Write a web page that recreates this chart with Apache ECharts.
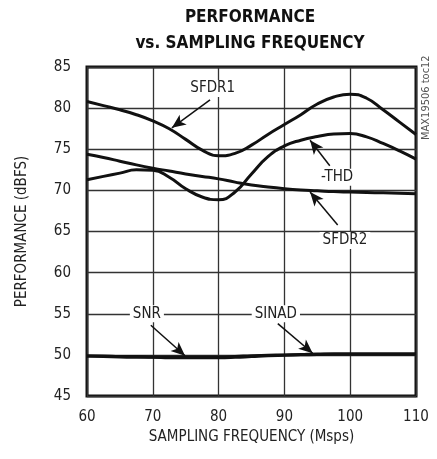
<!DOCTYPE html>
<html>
<head>
<meta charset="utf-8">
<script src="https://cdn.jsdelivr.net/npm/echarts@6/dist/echarts.min.js"></script>
<style>
  html, body { margin: 0; padding: 0; background: #fff; }
  #chart { width: 437px; height: 459px; }
</style>
</head>
<body>
<div id="chart"></div>
<script>
// sampling frequency (Msps)
const freq = [60, 62.5, 65, 67.5, 70, 72.5, 75, 77.5, 80, 82.5, 85, 87.5, 90, 92.5, 95, 97.5, 100, 102.5, 105, 107.5, 110];

// performance (dBFS)
const sfdr1 = [80.8, 80.3, 79.8, 79.2, 78.45, 77.5, 76.2, 74.9, 74.2, 74.5, 75.5, 76.8, 78.0, 79.2, 80.5, 81.35, 81.7, 81.2, 79.8, 78.3, 76.8];
const thd   = [71.3, 71.7, 72.1, 72.5, 72.45, 71.6, 70.2, 69.2, 68.85, 69.8, 72.0, 74.1, 75.4, 76.1, 76.55, 76.85, 76.9, 76.5, 75.7, 74.8, 73.8];
const sfdr2 = [74.4, 74.0, 73.55, 73.1, 72.7, 72.35, 72.0, 71.7, 71.4, 71.0, 70.65, 70.4, 70.2, 70.05, 69.95, 69.85, 69.8, 69.75, 69.7, 69.65, 69.6];
const snr   = [49.85, 49.85, 49.8, 49.8, 49.75, 49.75, 49.75, 49.75, 49.75, 49.8, 49.9, 49.95, 50.0, 50.05, 50.1, 50.1, 50.1, 50.1, 50.1, 50.1, 50.1];
const sinad = [49.85, 49.8, 49.75, 49.7, 49.7, 49.65, 49.65, 49.65, 49.65, 49.7, 49.8, 49.9, 49.95, 50.0, 50.05, 50.1, 50.1, 50.1, 50.1, 50.1, 50.1];

// annotation text position and arrow (from -> to), in data units
const notes = {
    SFDR1: { text: 'SFDR1', at: [79.1, 82.4], from: [78.7, 81.0], to: [72.9, 77.6] },
    THD:   { text: '-THD',  at: [98.0, 71.6], from: [96.9, 73.0], to: [93.9, 76.1] },
    SFDR2: { text: 'SFDR2', at: [99.2, 63.9], from: [98.1, 65.8], to: [93.9, 69.8] },
    SNR:   { text: 'SNR',   at: [69.1, 55.0], from: [69.7, 53.6], to: [74.9, 49.9] },
    SINAD: { text: 'SINAD', at: [88.7, 55.0], from: [89.0, 53.8], to: [94.3, 50.2] }
};

const FONT = '"DejaVu Sans Condensed", "Liberation Sans Narrow", "Liberation Sans", sans-serif';

function pairs(ys) {
    return freq.map(function (x, i) { return [x, ys[i]]; });
}

function makeSeries(name, ys, note) {
    return {
        name: name,
        type: 'line',
        data: pairs(ys),
        smooth: 0.5,
        symbol: 'none',
        lineStyle: { color: '#111', width: 3 },
        z: 3,
        markLine: {
            silent: true,
            symbol: ['none', 'arrow'],
            symbolSize: [9, 14],
            lineStyle: { color: '#111', width: 1.5, type: 'solid' },
            label: { show: false },
            data: [[{ coord: note.from }, { coord: note.to }]]
        },
        markPoint: {
            silent: true,
            symbol: 'rect',
            symbolSize: 0,
            data: [{
                coord: note.at,
                label: {
                    show: true,
                    position: 'inside',
                    formatter: note.text,
                    color: '#222',
                    fontFamily: FONT,
                    fontSize: 15,
                    backgroundColor: '#fff',
                    padding: [1, 3]
                }
            }]
        }
    };
}

const chart = echarts.init(document.getElementById('chart'), null, { renderer: 'canvas' });

chart.setOption({
    animation: false,
    backgroundColor: '#fff',
    title: {
        text: 'PERFORMANCE\nvs. SAMPLING FREQUENCY',
        left: 245,
        top: 0,
        textAlign: 'center',
        textStyle: {
            fontFamily: FONT,
            fontWeight: 'bold',
            fontSize: 17,
            lineHeight: 26,
            color: '#111'
        }
    },
    grid: {
        left: 87,
        right: 21,
        top: 67,
        bottom: 63,
        show: true,
        borderColor: '#111',
        borderWidth: 3,
        backgroundColor: 'transparent'
    },
    xAxis: {
        type: 'value',
        min: 60,
        max: 110,
        interval: 10,
        name: 'SAMPLING FREQUENCY (Msps)',
        nameLocation: 'middle',
        nameGap: 34,
        nameTextStyle: { fontFamily: FONT, fontSize: 15, color: '#222' },
        axisLine: { show: false },
        axisTick: { show: false },
        axisLabel: { fontFamily: FONT, fontSize: 15, color: '#222', margin: 14 },
        splitLine: { show: true, lineStyle: { color: '#333', width: 1.3 } }
    },
    yAxis: {
        type: 'value',
        min: 45,
        max: 85,
        interval: 5,
        name: 'PERFORMANCE (dBFS)',
        nameLocation: 'middle',
        nameGap: 57,
        nameTextStyle: { fontFamily: FONT, fontSize: 15, color: '#222' },
        axisLine: { show: false },
        axisTick: { show: false },
        axisLabel: { fontFamily: FONT, fontSize: 15, color: '#222', margin: 16 },
        splitLine: { show: true, lineStyle: { color: '#333', width: 1.3 } }
    },
    graphic: [{
        type: 'text',
        x: 421,
        y: 140,
        rotation: Math.PI / 2,
        style: {
            text: 'MAX19506 toc12',
            font: '11px ' + FONT,
            fill: '#555'
        }
    }],
    series: [
        makeSeries('SFDR1', sfdr1, notes.SFDR1),
        makeSeries('-THD', thd, notes.THD),
        makeSeries('SFDR2', sfdr2, notes.SFDR2),
        makeSeries('SNR', snr, notes.SNR),
        makeSeries('SINAD', sinad, notes.SINAD)
    ]
});
</script>
</body>
</html>
